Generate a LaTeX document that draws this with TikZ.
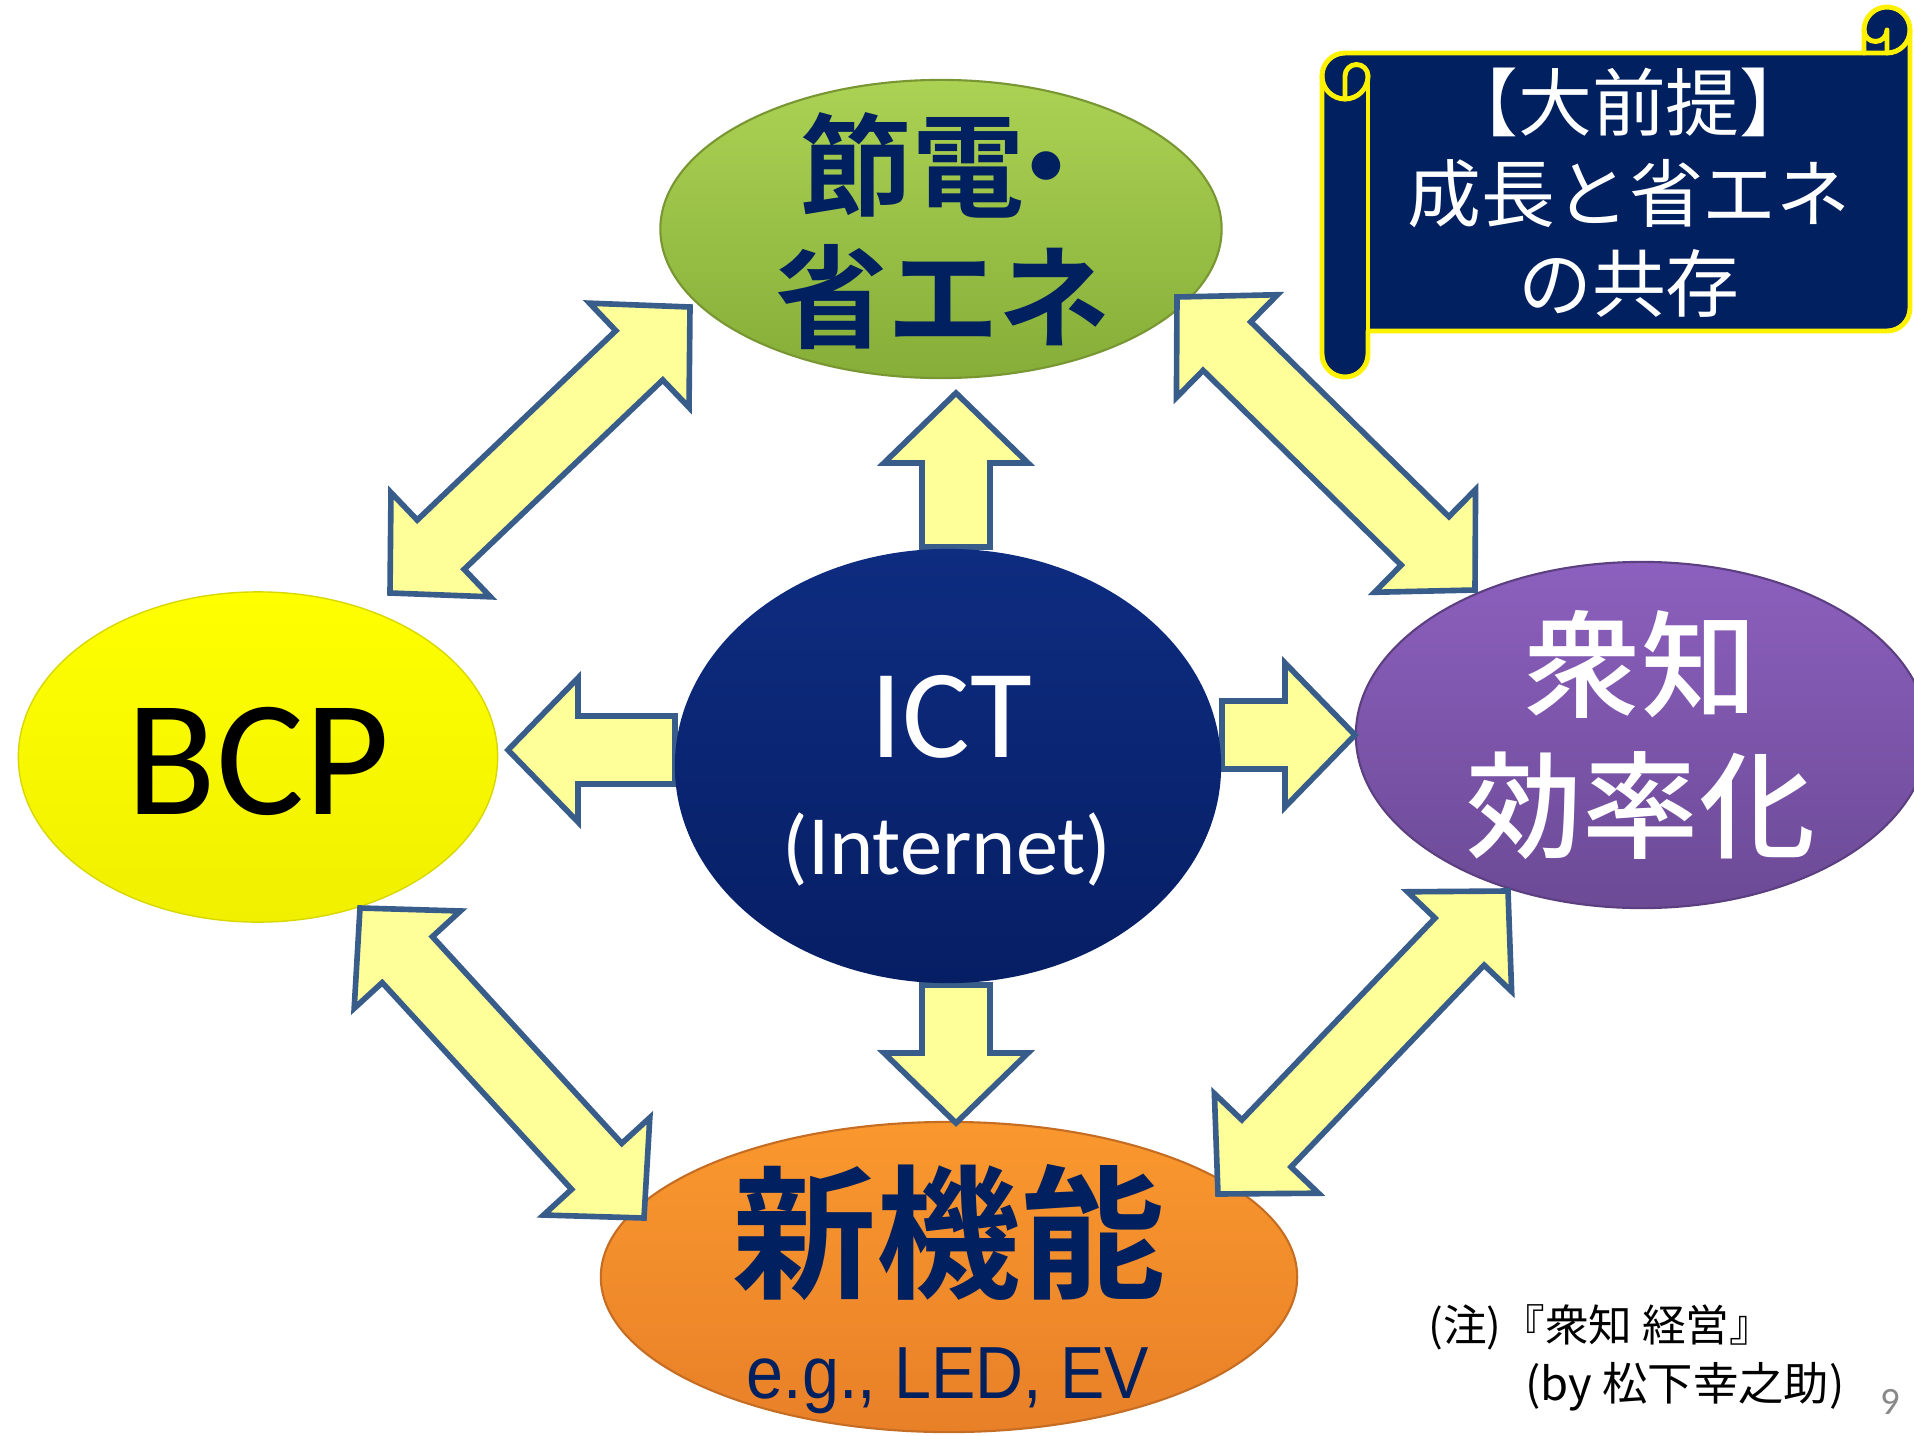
\documentclass[tikz,border=0pt]{standalone}
\usepackage{fontspec}
\usepackage{graphicx}
\usetikzlibrary{calc,shapes.geometric}
\newfontfamily\jp{Noto Sans CJK JP}
\newfontfamily\jpm{Noto Sans CJK JP Medium}
\newfontfamily\jpb{Noto Sans CJK JP Bold}
\newfontfamily\carl{Carlito}
\newfontfamily\lib{Liberation Sans}
\definecolor{arrfill}{RGB}{255,255,153}
\definecolor{arrline}{RGB}{56,93,138}
\definecolor{navytxt}{RGB}{0,32,96}
\definecolor{scrollbg}{RGB}{0,32,96}
\definecolor{grtop}{RGB}{172,210,84}
\definecolor{grbot}{RGB}{134,174,56}
\definecolor{grline}{RGB}{120,150,50}
\definecolor{ictop}{RGB}{14,44,128}
\definecolor{icbot}{RGB}{6,30,100}
\definecolor{bcptop}{RGB}{255,255,0}
\definecolor{bcpbot}{RGB}{240,240,0}
\definecolor{putop}{RGB}{140,96,190}
\definecolor{pubot}{RGB}{108,74,150}
\definecolor{ortop}{RGB}{250,152,46}
\definecolor{orbot}{RGB}{232,128,40}
\definecolor{pgnum}{RGB}{137,137,137}
\tikzset{
  blk/.style={fill=arrfill, draw=arrline, line width=1.6pt, line join=miter},
  oval/.style={ellipse, inner sep=0pt},
  scrollline/.style={draw=yellow, line width=1.4pt, line join=round, line cap=round},
}
% double block arrow between two named points
\newcommand\dblarrow[2]{%
  \draw[blk] (#1)
   -- ($(#1)!0.70cm!(#2)!0.72cm!90:(#2)$)
   -- ($(#1)!0.70cm!(#2)!0.34cm!90:(#2)$)
   -- ($(#2)!0.70cm!(#1)!0.34cm!-90:(#1)$)
   -- ($(#2)!0.70cm!(#1)!0.72cm!-90:(#1)$)
   -- (#2)
   -- ($(#2)!0.70cm!(#1)!0.72cm!90:(#1)$)
   -- ($(#2)!0.70cm!(#1)!0.34cm!90:(#1)$)
   -- ($(#1)!0.70cm!(#2)!0.34cm!-90:(#2)$)
   -- ($(#1)!0.70cm!(#2)!0.72cm!-90:(#2)$)
   -- cycle;}
% single block arrow: #1 tail, #2 tip
\newcommand\sglarrow[2]{%
  \draw[blk] (#2)
   -- ($(#2)!0.70cm!(#1)!0.72cm!90:(#1)$)
   -- ($(#2)!0.70cm!(#1)!0.34cm!90:(#1)$)
   -- ($(#1)!0.34cm!-90:(#2)$)
   -- ($(#1)!0.34cm!90:(#2)$)
   -- ($(#2)!0.70cm!(#1)!0.34cm!-90:(#1)$)
   -- ($(#2)!0.70cm!(#1)!0.72cm!-90:(#1)$)
   -- cycle;}
\begin{document}
\begin{tikzpicture}[x=0.01cm, y=-0.01cm]
\useasboundingbox (0,0) rectangle (1914,1436);
\clip (0,0) rectangle (1914,1436);
\fill[white] (0,0) rectangle (1914,1436);

% outer ellipses
\node[oval, minimum width=5.61cm, minimum height=2.98cm, top color=grtop, bottom color=grbot, draw=grline, line width=0.6pt] (green) at (941,229) {};
\node[oval, minimum width=4.79cm, minimum height=3.30cm, top color=bcptop, bottom color=bcpbot, draw=bcpbot!90!black, line width=0.4pt] (bcp) at (258,757) {};
\node[oval, minimum width=5.72cm, minimum height=3.46cm, top color=putop, bottom color=pubot, draw=pubot!85!black, line width=0.6pt] (purple) at (1642,735) {};
\node[oval, minimum width=6.96cm, minimum height=3.10cm, top color=ortop, bottom color=orbot, draw=orbot!85!black, line width=0.6pt] (orange) at (949,1277) {};

% arrow end points
\coordinate (upS) at (956,547);   \coordinate (upT) at (956,393);
\coordinate (dnS) at (956,985);   \coordinate (dnT) at (956,1123);
\coordinate (lfS) at (675,750);   \coordinate (lfT) at (508,750);
\coordinate (rtS) at (1222,735);  \coordinate (rtT) at (1355,735);
\coordinate (ulA) at (690,307);   \coordinate (ulB) at (390,593);
\coordinate (urA) at (1177,297);  \coordinate (urB) at (1475,590);
\coordinate (llA) at (360,908);   \coordinate (llB) at (644,1218);
\coordinate (lrA) at (1218,1194); \coordinate (lrB) at (1508,891);

\sglarrow{upS}{upT}
\sglarrow{dnS}{dnT}
\sglarrow{lfS}{lfT}
\sglarrow{rtS}{rtT}
\dblarrow{ulA}{ulB}
\dblarrow{urA}{urB}
\dblarrow{llA}{llB}
\dblarrow{lrA}{lrB}

% centre ellipse
\node[oval, minimum width=5.46cm, minimum height=4.34cm, top color=ictop, bottom color=icbot] (ict) at (948,766) {};

% texts
\node[font=\jpb\fontsize{31.8}{37.3}\selectfont, text=navytxt, align=center] (greentxt) at (943,231) {節電\kern-0.3em・\kern-0.15em\\省エネ};
\node[anchor=base, font=\carl\fontsize{36}{40}\selectfont, text=white] (icttxt) at (951,757) {ICT};
\node[anchor=base, font=\carl\fontsize{24}{28}\selectfont, text=white] (inttxt) at (947,874) {(Internet)};
\node[anchor=base, font=\carl\fontsize{47}{52}\selectfont, text=black] (bcptxt) at (258,814) {BCP};
\node[font=\jpm\fontsize{33}{40.1}\selectfont, text=white, align=center] (purpletxt) at (1641,735) {衆知\\効率化};
\node[font=\jpb\fontsize{41}{45}\selectfont, text=navytxt] (orangetxt) at (949,1233) {新機能};
\node[anchor=base, font=\lib\fontsize{21}{25}\selectfont, text=navytxt] (egtxt) at (948,1398) {\scalebox{0.9}[1]{e.g., LED, EV}};

% scroll
\path[scrollline, fill=scrollbg]
  (1322,76) arc[start angle=180, end angle=270, radius=23]
  -- (1864,53) -- (1864,30) arc[start angle=180, end angle=360, radius=23]
  -- (1910,308) arc[start angle=0, end angle=90, radius=23]
  -- (1368,331) -- (1368,354) arc[start angle=0, end angle=180, radius=23]
  -- cycle;
\draw[scrollline] (1864,53) -- (1887,53) arc[start angle=90, end angle=0, radius=23];
\draw[scrollline] (1887,53) -- (1887,30) arc[start angle=0, end angle=180, radius=11.5];
\draw[scrollline] (1322,76) arc[start angle=180, end angle=0, radius=23];
\draw[scrollline] (1345,99) -- (1345,76) arc[start angle=180, end angle=360, radius=11.5];
\draw[scrollline] (1368,76) -- (1368,331);
\node[font=\jp\fontsize{21}{25.7}\selectfont, text=white, align=center] (scrolltxt) at (1629,193) {【大前提】\\成長と省エネ\\の共存};

% note
\node[anchor=west, font=\jp\fontsize{12.4}{15}\selectfont, text=black] (note1) at (1416,1327) {(注)『衆知 経営』};
\node[anchor=west, font=\jp\fontsize{12.9}{15}\selectfont, text=black] (note2) at (1513,1387) {(by 松下幸之助)};
\node[font=\carl\fontsize{11}{12}\selectfont, text=pgnum] (pnum) at (1890,1402) {9};
\end{tikzpicture}
\end{document}
